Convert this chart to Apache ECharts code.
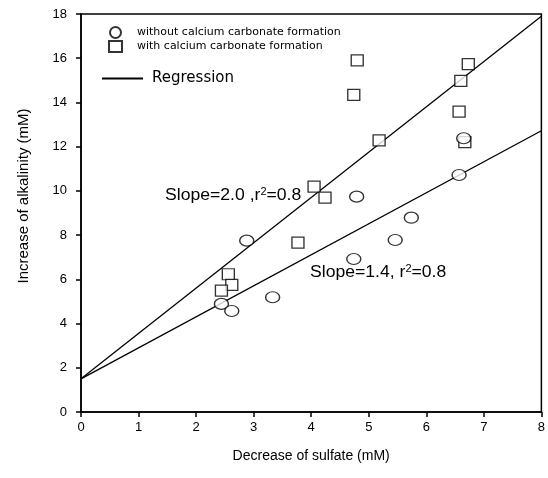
<!DOCTYPE html>
<html><head><meta charset="utf-8">
<script src="https://cdn.jsdelivr.net/npm/echarts@6/dist/echarts.min.js"></script>
<style>html,body{margin:0;padding:0;background:#fff}#c{width:548px;height:478px}</style>
</head><body><div id="c"></div>
<script>
var withoutCaCO3 = [[2.88,7.75],[4.79,9.74],[5.74,8.79],[5.46,7.78],[4.74,6.92],[3.33,5.19],[2.44,4.89],[2.62,4.57],[6.57,10.72],[6.65,12.38]];
var withCaCO3 = [[4.80,15.9],[6.73,15.73],[6.60,14.98],[4.74,14.34],[6.57,13.59],[6.67,12.2],[5.18,12.28],[4.05,10.19],[4.24,9.70],[3.77,7.66],[2.56,6.23],[2.62,5.75],[2.44,5.49]];
var regressionWith = [[0,1.5],[8,17.9]];
var regressionWithout = [[0,1.5],[8,12.72]];
var xTicks = [0,1,2,3,4,5,6,7,8];
var yTicks = [0,2,4,6,8,10,12,14,16,18];

var font = 'Liberation Sans, Arial, sans-serif';
var wide = 'DejaVu Sans, sans-serif';
var chart = echarts.init(document.getElementById('c'));
chart.setOption({
  animation:false,
  backgroundColor:'#fff',
  grid:{left:81,right:6,top:14,bottom:66,show:true,borderColor:'#000',borderWidth:1.5},
  xAxis:{type:'value',min:0,max:8,interval:1,
    name:'Decrease of sulfate (mM)',nameLocation:'middle',nameGap:37,
    nameTextStyle:{fontFamily:font,fontSize:14,color:'#000'},
    axisLine:{lineStyle:{color:'#000',width:1.5}},
    axisTick:{inside:false,length:5,lineStyle:{color:'#000',width:1.5}},
    axisLabel:{fontFamily:font,fontSize:13,color:'#000',margin:9},
    splitLine:{show:false}},
  yAxis:{type:'value',min:0,max:18,interval:2,
    name:'Increase of alkalinity (mM)',nameLocation:'middle',nameGap:50,
    nameTextStyle:{fontFamily:font,fontSize:15,color:'#000',padding:[0,0,0,34]},
    axisLine:{lineStyle:{color:'#000',width:1.5}},
    axisTick:{inside:false,length:5,lineStyle:{color:'#000',width:1.5}},
    axisLabel:{fontFamily:font,fontSize:13,color:'#000',margin:14},
    splitLine:{show:false}},
  legend:[{
    data:['without calcium carbonate formation','with calcium carbonate formation'],
    orient:'vertical',left:103,top:21,itemGap:1,itemWidth:13,itemHeight:11,
    textStyle:{fontFamily:wide,fontSize:11,color:'#000',padding:[0,0,0,10]}
  },{
    data:['Regression'],left:96,top:66,itemWidth:41,itemHeight:12,
    itemStyle:{opacity:0},
    textStyle:{fontFamily:wide,fontSize:15,color:'#000',padding:[0,0,0,4]}
  }],
  series:[
    {name:'without calcium carbonate formation',type:'scatter',data:withoutCaCO3,symbol:'circle',symbolSize:[14,11],
     itemStyle:{color:'#fff',borderColor:'#000',borderWidth:1.3},z:4},
    {name:'with calcium carbonate formation',type:'scatter',data:withCaCO3,symbol:'rect',symbolSize:[12,11],
     itemStyle:{color:'#fff',borderColor:'#000',borderWidth:1.3},z:3},
    {name:'Regression',type:'line',data:regressionWith,symbol:'none',lineStyle:{color:'#000',width:1.3},itemStyle:{color:'#000'},z:2},
    {name:'Regression',type:'line',data:regressionWithout,symbol:'none',lineStyle:{color:'#000',width:1.3},itemStyle:{color:'#000'},z:2}
  ],
  graphic:[
    {type:'text',left:165,top:187,scaleX:1.1,style:{text:'Slope=2.0 ,r{s|2}=0.8',font:'16px '+font,fill:'#000',
      rich:{s:{fontSize:10,verticalAlign:'top',padding:[0,0,7,0],fontFamily:font}}}},
    {type:'text',left:310,top:264,scaleX:1.1,style:{text:'Slope=1.4, r{s|2}=0.8',font:'16px '+font,fill:'#000',
      rich:{s:{fontSize:10,verticalAlign:'top',padding:[0,0,7,0],fontFamily:font}}}}
  ]
});
</script></body></html>
